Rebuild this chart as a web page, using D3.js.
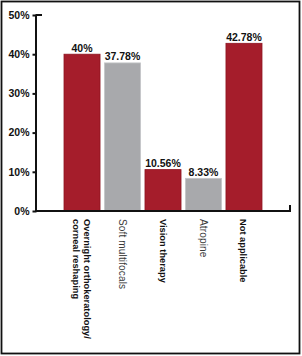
<!DOCTYPE html>
<html><head><meta charset="utf-8">
<script src="https://cdn.jsdelivr.net/npm/d3@7"></script>
<style>body{margin:0;background:#fff}svg{display:block}</style>
</head><body>
<svg id="c" width="302" height="356"></svg>
<script>
const categories = [["Overnight orthokeratology/","corneal reshaping"],["Soft multifocals"],["Vision therapy"],["Atropine"],["Not applicable"]];
const values = [40, 37.78, 10.56, 8.33, 42.78];
const valueLabels = ["40%","37.78%","10.56%","8.33%","42.78%"];
const highlighted = [true, false, true, false, true];
const yTicks = [0,10,20,30,40,50];

const svg = d3.select("#c");
const font = "'Liberation Sans', Arial, sans-serif";
svg.append("rect").attr("x",1.5).attr("y",1.5).attr("width",298).attr("height",352)
  .attr("fill","none").attr("stroke","#111").attr("stroke-width",1.8);

const y = d3.scaleLinear().domain([0,50]).range([211,15]);
const x = d3.scaleBand().domain(d3.range(values.length)).range([64,262]).paddingInner(0.11).paddingOuter(0);

// y axis
const yAxis = svg.append("g").attr("transform","translate(35.5,0)")
  .call(d3.axisLeft(y).tickValues(yTicks).tickSize(3).tickSizeOuter(0).tickFormat(d=>d+"%"));
yAxis.select(".domain").attr("stroke","#111").attr("stroke-width",2);
yAxis.selectAll(".tick line").attr("stroke","#111").attr("stroke-width",2).attr("x2",-3).attr("x1",1);
yAxis.selectAll(".tick text").attr("x",-6).attr("font-family",font).attr("font-weight","bold")
  .attr("font-size",10.5).attr("fill","#111");
svg.append("line").attr("x1",35.5).attr("x2",42).attr("y1",y(50)).attr("y2",y(50))
  .attr("stroke","#111").attr("stroke-width",2);

// bars
svg.selectAll("rect.bar").data(values).join("rect").attr("class","bar")
  .attr("x",(d,i)=>x(i)).attr("width",x.bandwidth())
  .attr("y",d=>y(d)).attr("height",d=>y(0)-y(d))
  .attr("fill",(d,i)=>highlighted[i]?"#a51d2b":"#a8a9ac")
  .attr("stroke",(d,i)=>highlighted[i]?"#8e1521":"#c4c5c8").attr("stroke-width",0.8);

// x axis baseline
svg.append("path").attr("d",`M35,${y(0)}H290V${y(0)-6}`).attr("fill","none")
  .attr("stroke","#111").attr("stroke-width",2);

// value labels
svg.selectAll("text.val").data(values).join("text").attr("class","val")
  .attr("x",(d,i)=>x(i)+x.bandwidth()/2).attr("y",d=>y(d)-2.5)
  .attr("text-anchor","middle").attr("font-family",font).attr("font-weight","bold")
  .attr("font-size",10.5).attr("fill","#111").text((d,i)=>valueLabels[i]);

// category labels rotated
categories.forEach((lines,i)=>{
  const cx = x(i)+x.bandwidth()/2;
  const n = lines.length;
  const g = svg.append("g").attr("transform",`translate(${cx},219) rotate(90)`);
  lines.forEach((t,j)=>{
    const off = (j-(n-1)/2)*10.5;
    g.append("text").attr("x",0).attr("y",off+3.5)
      .attr("font-family",font)
      .attr("font-weight",highlighted[i]?"bold":"normal")
      .attr("font-size",highlighted[i]?9.3:10)
      .attr("letter-spacing",highlighted[i]?0:0.15)
      .attr("fill",highlighted[i]?"#111":"#3a3a3a").text(t);
  });
});
</script>
</body></html>
